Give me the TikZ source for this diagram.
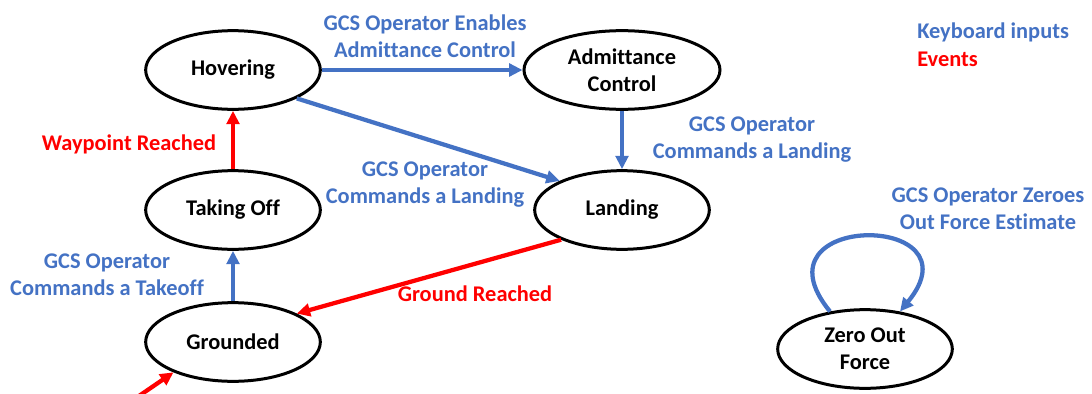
\documentclass[tikz,border=0pt]{standalone}
\usepackage{fontspec}
\setmainfont{Carlito}[Ligatures=NoCommon]
\usetikzlibrary{arrows.meta,shapes.geometric}
\definecolor{keyblue}{HTML}{4472C4}
\definecolor{eventred}{HTML}{FF0000}
\tikzset{
	diagfont/.style={font=\bfseries\fontsize{16.8}{20.3}\selectfont},
	state/.style={draw, ellipse, line width=2.25pt, minimum width=131pt, minimum height=59pt, inner sep=0pt, align=center, diagfont},
	keyarrow/.style={draw=keyblue, line width=3.2pt, -{Triangle[length=10pt,width=9.5pt]}},
	eventarrow/.style={draw=eventred, line width=3.2pt, -{Triangle[length=10pt,width=9.5pt]}},
	keylabel/.style={text=keyblue, align=center, inner sep=0pt, diagfont},
	eventlabel/.style={text=eventred, align=center, inner sep=0pt, diagfont}
}

\begin{document}
\begin{tikzpicture}[x=0.75pt, y=-0.75pt]
	\useasboundingbox (0,0) rectangle (1092,393);
	\node[state] (hov) at (233,70) {Hovering};
	\node[state, minimum width=147pt] (adm) at (622,70) {Admittance\\Control};
	\node[state] (tko) at (233,210) {Taking Off};
	\node[state] (lnd) at (622,210) {Landing};
	\node[state] (grd) at (233,342) {Grounded};
	\node[state] (zof) at (865,349) {Zero Out\\Force};
	\coordinate (init) at (136,398);

	\draw[keyarrow] (hov) -- (adm);
	\draw[keyarrow] (adm) -- (lnd);
	\draw[keyarrow] (hov.-24) -- (lnd.155);
	\draw[keyarrow] (grd) -- (tko);
	\draw[eventarrow] (tko) -- (hov);
	\draw[eventarrow] (lnd.206) -- (grd.24);
	\draw[eventarrow] (init) -- (grd.207);
	\draw[keyarrow] (zof.133) .. controls +(-82,-100) and +(82,-100) .. (zof.47);

	\node[keylabel] (lblenable) at (425,36) {GCS Operator Enables\\Admittance Control};
	\node[keylabel] (lbllandadm) at (752,140) {GCS Operator\\Commands a Landing};
	\node[keylabel] (lbllandhov) at (425,185) {GCS Operator\\Commands a Landing};
	\node[keylabel] (lbltakeoff) at (107,275) {GCS Operator\\Commands a Takeoff};
	\node[keylabel] (lblzero) at (988,209) {GCS Operator Zeroes\\Out Force Estimate};
	\node[eventlabel] (lblwaypoint) at (129,144) {Waypoint Reached};
	\node[eventlabel] (lblground) at (475,294) {Ground Reached};
	\node[keylabel, anchor=west] (keykeys) at (917,32) {Keyboard inputs};
	\node[eventlabel, anchor=west] (keyevents) at (917,59) {Events};
\end{tikzpicture}
\end{document}
